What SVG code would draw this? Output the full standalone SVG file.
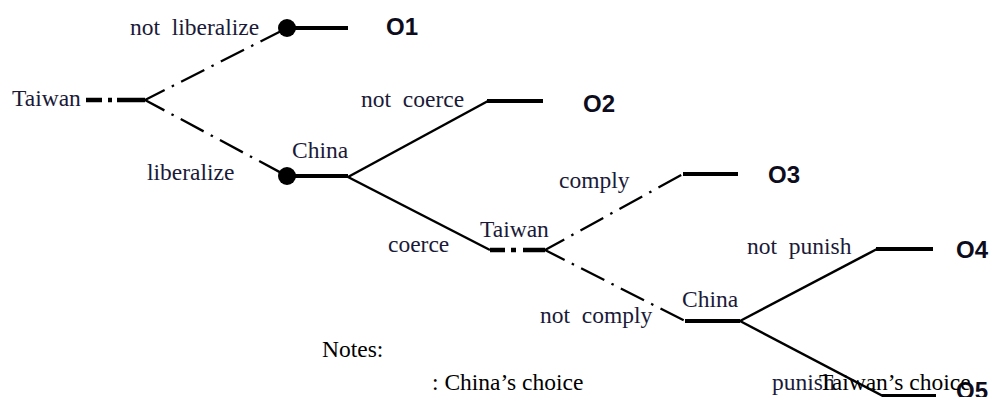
<svg xmlns="http://www.w3.org/2000/svg" width="992" height="397" viewBox="0 0 992 397">
<style>
text{font-family:"Liberation Serif","Times New Roman",serif;font-size:23.5px;fill:#1a1a38;white-space:pre}
.out{font-family:"Liberation Sans",Arial,sans-serif;font-weight:bold;font-size:24px;fill:#0c0c1c}
.note{fill:#000}
.solid{stroke:#000;stroke-width:2.5;fill:none}
.thin{stroke:#000;stroke-width:2.3;fill:none;stroke-dasharray:26 8 2.5 8;stroke-dashoffset:4}
.thick{stroke:#000;stroke-width:4;fill:none}
.tdash{stroke:#000;stroke-width:4.5;fill:none}
</style>
<rect width="992" height="397" fill="#fff"/>
<g id="connectors">
  <path class="tdash" d="M145,100 L86,100" stroke-dasharray="28 5 4 6"/>
  <path class="thin" d="M145,100 L287,28"/>
  <path class="thin" d="M145,100 L287,176"/>
  <path class="thick" d="M287,28 L348,28"/>
  <path class="thick" d="M287,176 L348,176"/>
  <path class="solid" d="M348,177 L488,101"/>
  <path class="thick" d="M487,101 L543,101"/>
  <path class="solid" d="M348,177 L490,250"/>
  <path class="tdash" d="M545,250 L490,250" stroke-dasharray="22 7 5 6"/>
  <path class="thin" d="M545,250 L683,174"/>
  <path class="thick" d="M683,174 L738,174"/>
  <path class="thin" d="M545,250 L685,321"/>
  <path class="thick" d="M685,321 L740,321"/>
  <path class="solid" d="M740,321 L877,249"/>
  <path class="thick" d="M876,249 L933,249"/>
  <path class="solid" d="M740,321 L883,396"/>
  <path class="thick" d="M882,396 L936,396"/>
  <text x="130" y="35">not  liberalize</text>
  <text x="147" y="180">liberalize</text>
  <text x="361" y="107">not  coerce</text>
  <text x="388" y="252">coerce</text>
  <text x="559" y="188">comply</text>
  <text x="540" y="323">not  comply</text>
  <text x="747" y="254">not  punish</text>
  <text x="772" y="390">punish</text>
</g>
<g id="taiwan1"><text x="12" y="106">Taiwan</text></g>
<g id="china1"><circle cx="287" cy="176" r="9" fill="#000"/><text x="292" y="158">China</text></g>
<g id="dot-o1"><circle cx="287" cy="28" r="9" fill="#000"/></g>
<g id="taiwan2"><text x="480" y="237">Taiwan</text></g>
<g id="china2"><text x="682" y="307">China</text></g>
<g id="o1"><text class="out" x="386" y="35">O1</text></g>
<g id="o2"><text class="out" x="583" y="112">O2</text></g>
<g id="o3"><text class="out" x="768" y="183">O3</text></g>
<g id="o4"><text class="out" x="956" y="258">O4</text></g>
<g id="o5"><text class="out" x="956" y="399">O5</text></g>
<g id="notes">
  <text class="note" x="322" y="357">Notes:</text>
  <text class="note" x="432" y="390">: China’s choice</text>
  <text class="note" x="819" y="390">Taiwan’s choice</text>
</g>
</svg>
